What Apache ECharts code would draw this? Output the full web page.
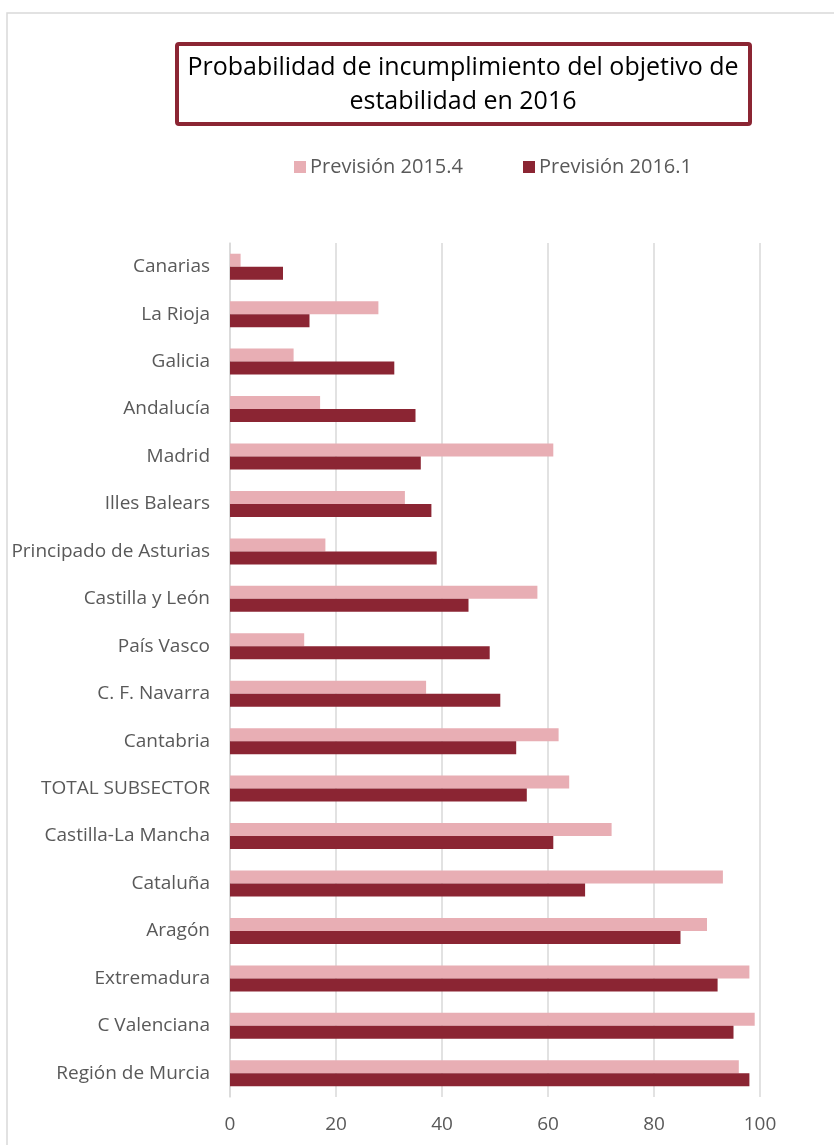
<!DOCTYPE html>
<html>
<head>
<meta charset="utf-8">
<script src="https://cdn.jsdelivr.net/npm/echarts@6/dist/echarts.min.js"></script>
<style>
  html, body { margin: 0; padding: 0; background: #fff; }
  #main { width: 834px; height: 1145px; }
</style>
</head>
<body>
<div id="main"></div>
<script>
var categories = ['Canarias', 'La Rioja', 'Galicia', 'Andalucía', 'Madrid', 'Illes Balears',
  'Principado de Asturias', 'Castilla y León', 'País Vasco', 'C. F. Navarra', 'Cantabria',
  'TOTAL SUBSECTOR', 'Castilla-La Mancha', 'Cataluña', 'Aragón', 'Extremadura',
  'C Valenciana', 'Región de Murcia'];
var prev2015 = [2, 28, 12, 17, 61, 33, 18, 58, 14, 37, 62, 64, 72, 93, 90, 98, 99, 96];
var prev2016 = [10, 15, 31, 35, 36, 38, 39, 45, 49, 51, 54, 56, 61, 67, 85, 92, 95, 98];
var seriesNames = ['Previsión 2015.4', 'Previsión 2016.1'];
var xTicks = [0, 20, 40, 60, 80, 100];

var font = '"Open Sans", sans-serif';
var myChart = echarts.init(document.getElementById('main'));

var option = {
  backgroundColor: '#fff',
  animation: false,
  graphic: [
    { type: 'rect', shape: { x: 7, y: 13, width: 840, height: 1150 },
      style: { fill: 'none', stroke: '#d9d9d9', lineWidth: 1.5 } },
    { type: 'rect', shape: { x: 177, y: 44, width: 573, height: 80, r: 2 },
      style: { fill: '#fff', stroke: '#8b2533', lineWidth: 4 } },
    { type: 'text', x: 463, y: 51, z: 10,
      style: { text: 'Probabilidad de incumplimiento del objetivo de\nestabilidad en 2016',
        font: '25px ' + font, fill: '#000', align: 'center', verticalAlign: 'top', lineHeight: 34 } }
  ],
  legend: {
    top: 152,
    left: 289,
    itemGap: 60,
    itemWidth: 12,
    itemHeight: 12,
    icon: 'rect',
    textStyle: { fontFamily: font, fontSize: 20, color: '#595959', padding: [0, 0, 0, -1] },
    data: seriesNames
  },
  grid: { left: 230, right: 74, top: 243, bottom: 48, containLabel: false },
  xAxis: {
    type: 'value',
    min: 0, max: 100, interval: 20,
    axisLine: { show: false },
    axisTick: { show: false },
    splitLine: { lineStyle: { color: '#d9d9d9', width: 1.5 } },
    axisLabel: { fontFamily: font, fontSize: 19, color: '#595959', margin: 18,
      formatter: function (v) { return xTicks.indexOf(v) >= 0 ? String(v) : ''; } }
  },
  yAxis: {
    type: 'category',
    inverse: true,
    data: categories,
    axisLine: { lineStyle: { color: '#d9d9d9', width: 1.5 } },
    axisTick: { show: false },
    axisLabel: { fontFamily: font, fontSize: 19, color: '#595959', margin: 20 }
  },
  series: [
    { name: seriesNames[0], type: 'bar', data: prev2015, barWidth: 13, barGap: '0%',
      itemStyle: { color: '#e8aeb4' } },
    { name: seriesNames[1], type: 'bar', data: prev2016, barWidth: 13,
      itemStyle: { color: '#8b2533' } }
  ]
};
myChart.setOption(option);
</script>
</body>
</html>
